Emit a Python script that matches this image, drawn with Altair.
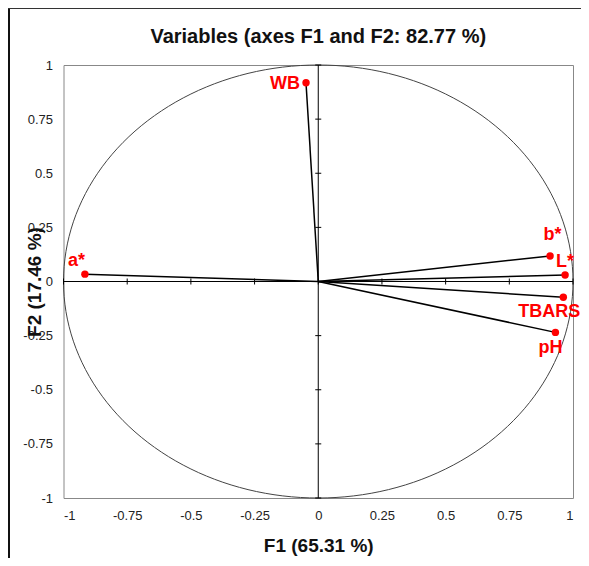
import altair as alt
import pandas as pd

# Variables (correlations with F1 / F2)
VARS = ["WB", "a*", "b*", "L*", "TBARS", "pH"]
F1 = [-0.048, -0.916, 0.910, 0.969, 0.962, 0.931]
F2 = [0.918, 0.034, 0.118, 0.030, -0.073, -0.235]
TICKS = [-1, -0.75, -0.5, -0.25, 0, 0.25, 0.5, 0.75, 1]
TITLE = "Variables (axes F1 and F2: 82.77 %)"

FONT = "Liberation Sans"
W, H = 509.5, 433

df = pd.DataFrame({"var": VARS, "F1": F1, "F2": F2})
ticks = pd.DataFrame({"t": TICKS})
one = pd.DataFrame({"a": [0]})

xs = alt.Scale(domain=[-1, 1], nice=False, zero=False)
ys = alt.Scale(domain=[-1, 1], nice=False, zero=False)

X = alt.X("F1:Q", scale=xs, axis=alt.Axis(
    values=TICKS, labelExpr="'' + datum.value", title="F1 (65.31 %)",
    grid=False, ticks=False, domain=False, labelFontSize=13, labelFont=FONT,
    labelColor="#222", labelPadding=11, titleFont=FONT, titleFontSize=19,
    titleFontWeight="bold", titleColor="#111", titleY=53, titleBaseline="alphabetic"))
Y = alt.Y("F2:Q", scale=ys, axis=alt.Axis(
    values=TICKS, labelExpr="'' + datum.value", title="F2 (17.46 %)",
    grid=False, ticks=False, domain=False, labelFontSize=13, labelFont=FONT,
    labelColor="#222", labelPadding=11, titleFont=FONT, titleFontSize=19,
    titleFontWeight="bold", titleColor="#111", titleX=-23, titleY=216.5,
    titleAngle=-90, titleBaseline="alphabetic", titleAlign="center"))

# unit circle
circle = alt.Chart(alt.sequence(0, 362, 2, as_="deg")).transform_calculate(
    F1="cos(datum.deg*PI/180)", F2="sin(datum.deg*PI/180)"
).mark_line(color="#444", strokeWidth=1, clip=False).encode(
    x=X, y=Y, order="deg:Q")

# zero axes
vline = alt.Chart(one).mark_rule(color="black", strokeWidth=1).encode(
    x=alt.datum(0, scale=xs), y=alt.datum(-1, scale=ys), y2=alt.datum(1))
hline = alt.Chart(one).mark_rule(color="black", strokeWidth=1).encode(
    y=alt.datum(0, scale=ys), x=alt.datum(-1, scale=xs), x2=alt.datum(1))

xticks = alt.Chart(ticks).mark_rule(color="black", strokeWidth=1, yOffset=-3, y2Offset=3).encode(
    x=alt.X("t:Q", scale=xs), y=alt.datum(0, scale=ys), y2=alt.datum(0))
yticks = alt.Chart(ticks).mark_rule(color="black", strokeWidth=1, xOffset=-3, x2Offset=3).encode(
    y=alt.Y("t:Q", scale=ys), x=alt.datum(0, scale=xs), x2=alt.datum(0))

vectors = alt.Chart(df).transform_calculate(o="0").mark_rule(
    color="black", strokeWidth=1.5).encode(
    x=X, y=Y, x2="o:Q", y2="o:Q")

points = alt.Chart(df).mark_circle(color="#ff0000", opacity=1, size=55).encode(x=X, y=Y)

offsets = {
    "WB": ("right", -6, 6),
    "a*": ("right", 0, -8),
    "b*": ("center", 2.5, -16),
    "L*": ("center", 0, -8),
    "TBARS": ("right", 17, 20),
    "pH": ("center", -5, 21),
}
labels = []
for v in VARS:
    al, dx, dy = offsets[v]
    labels.append(
        alt.Chart(df).transform_filter(alt.datum["var"] == v).mark_text(
            color="#ff0000", font=FONT, fontSize=18, fontWeight="bold",
            align=al, baseline="alphabetic", dx=dx, dy=dy, clip=False
        ).encode(x=X, y=Y, text="var:N"))

title = alt.Chart(pd.DataFrame({"t": [TITLE]})).mark_text(
    font=FONT, fontSize=20, fontWeight="bold", color="#111",
    align="center", baseline="alphabetic"
).encode(x=alt.value(W / 2), y=alt.value(-22), text="t:N")

# outer frame lines (page border)
left_border = alt.Chart(one).mark_rule(color="#111", strokeWidth=2).encode(
    x=alt.value(-54.5), y=alt.value(-57), y2=alt.value(H + 70))
top_border = alt.Chart(one).mark_rule(color="#333", strokeWidth=2).encode(
    y=alt.value(-57), x=alt.value(-56), x2=alt.value(W + 20))

chart = alt.layer(
    circle, vline, hline, xticks, yticks, vectors, points, *labels, title,
    left_border, top_border
).properties(
    width=W, height=H,
    autosize=alt.AutoSizeParams(type="none"),
    padding={"left": 55.5, "top": 57, "right": 8, "bottom": 60},
).configure_view(stroke="#888", strokeWidth=1)

chart.save("out.html", embed_options={"renderer": "svg", "actions": False})
